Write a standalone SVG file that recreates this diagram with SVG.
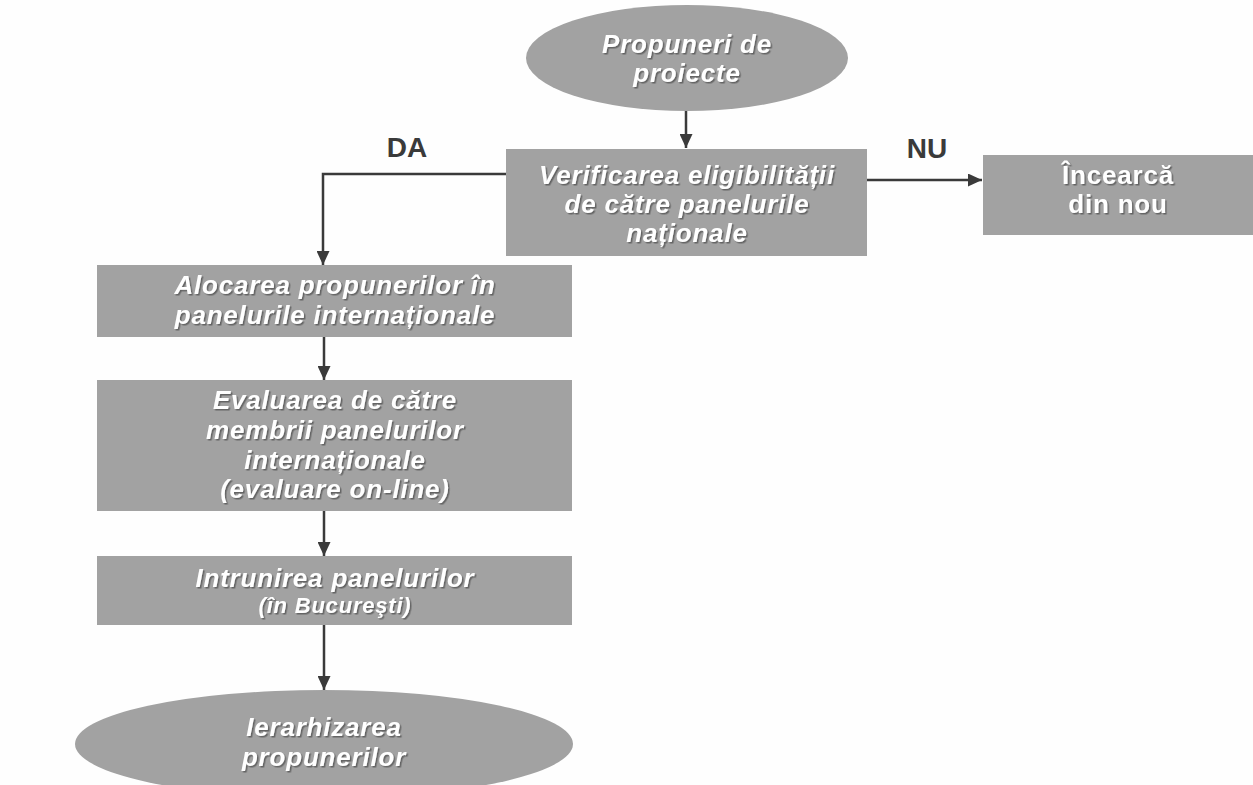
<svg xmlns="http://www.w3.org/2000/svg" width="1253" height="785" viewBox="0 0 1253 785">
<defs>
<style>
.node{fill:#a2a2a2;}
.t{font-family:"Liberation Sans",Arial,sans-serif;font-weight:bold;font-style:italic;font-size:26px;fill:#ffffff;text-anchor:middle;letter-spacing:0.8px;filter:url(#sh);}
.tn{font-style:normal;}
.sm{font-size:22px;}
.lbl{font-family:"Liberation Sans",Arial,sans-serif;font-weight:bold;font-size:28px;fill:#3a3a3a;text-anchor:middle;}
.c{fill:none;stroke:#3a3a3a;stroke-width:2.5;marker-end:url(#ah);}
</style>
<marker id="ah" viewBox="0 0 14 13" refX="14" refY="6.5" markerWidth="14" markerHeight="13" markerUnits="userSpaceOnUse" orient="auto">
<path d="M0,0 L14,6.5 L0,13 Z" fill="#3a3a3a"/>
</marker>
<filter id="sh" x="-10%" y="-30%" width="120%" height="160%">
<feDropShadow dx="1.5" dy="1.5" stdDeviation="0.6" flood-color="#4a4a4a" flood-opacity="0.7"/>
</filter>
</defs>
<rect width="1253" height="785" fill="#fefefe"/>
<g id="connectors">
<line class="c" x1="686" y1="110" x2="686" y2="148"/>
<polyline class="c" points="506,174 323,174 323,265"/>
<line class="c" x1="867" y1="180" x2="982" y2="180"/>
<line class="c" x1="324" y1="337" x2="324" y2="380"/>
<line class="c" x1="324" y1="505" x2="324" y2="556"/>
<line class="c" x1="324" y1="625" x2="324" y2="690"/>
<text class="lbl" x="407" y="157">DA</text>
<text class="lbl" x="927" y="158">NU</text>
</g>
<g id="n1">
<ellipse class="node" cx="687" cy="58" rx="161" ry="53"/>
<text class="t" x="687" y="53">Propuneri de</text>
<text class="t" x="687" y="82">proiecte</text>
</g>
<g id="n2">
<rect class="node" x="506" y="149" width="361" height="107"/>
<text class="t" x="687" y="184">Verificarea eligibilității</text>
<text class="t" x="687" y="213">de către panelurile</text>
<text class="t" x="687" y="242">naționale</text>
</g>
<g id="n3">
<rect class="node" x="983" y="155" width="270" height="80"/>
<text class="t tn" x="1118" y="184">Încearcă</text>
<text class="t tn" x="1118" y="213">din nou</text>
</g>
<g id="n4">
<rect class="node" x="97" y="265" width="475" height="72"/>
<text class="t" x="335" y="294">Alocarea propunerilor în</text>
<text class="t" x="335" y="324">panelurile internaționale</text>
</g>
<g id="n5">
<rect class="node" x="97" y="380" width="475" height="131"/>
<text class="t" x="335" y="409">Evaluarea de către</text>
<text class="t" x="335" y="439">membrii panelurilor</text>
<text class="t" x="335" y="469">internaționale</text>
<text class="t" x="335" y="498">(evaluare on-line)</text>
</g>
<g id="n6">
<rect class="node" x="97" y="556" width="475" height="69"/>
<text class="t" x="335" y="587">Intrunirea panelurilor</text>
<text class="t sm" x="335" y="613">(în Bucureşti)</text>
</g>
<g id="n7">
<ellipse class="node" cx="324" cy="744" rx="249" ry="54"/>
<text class="t" x="324" y="736">Ierarhizarea</text>
<text class="t" x="324" y="766">propunerilor</text>
</g>
</svg>
